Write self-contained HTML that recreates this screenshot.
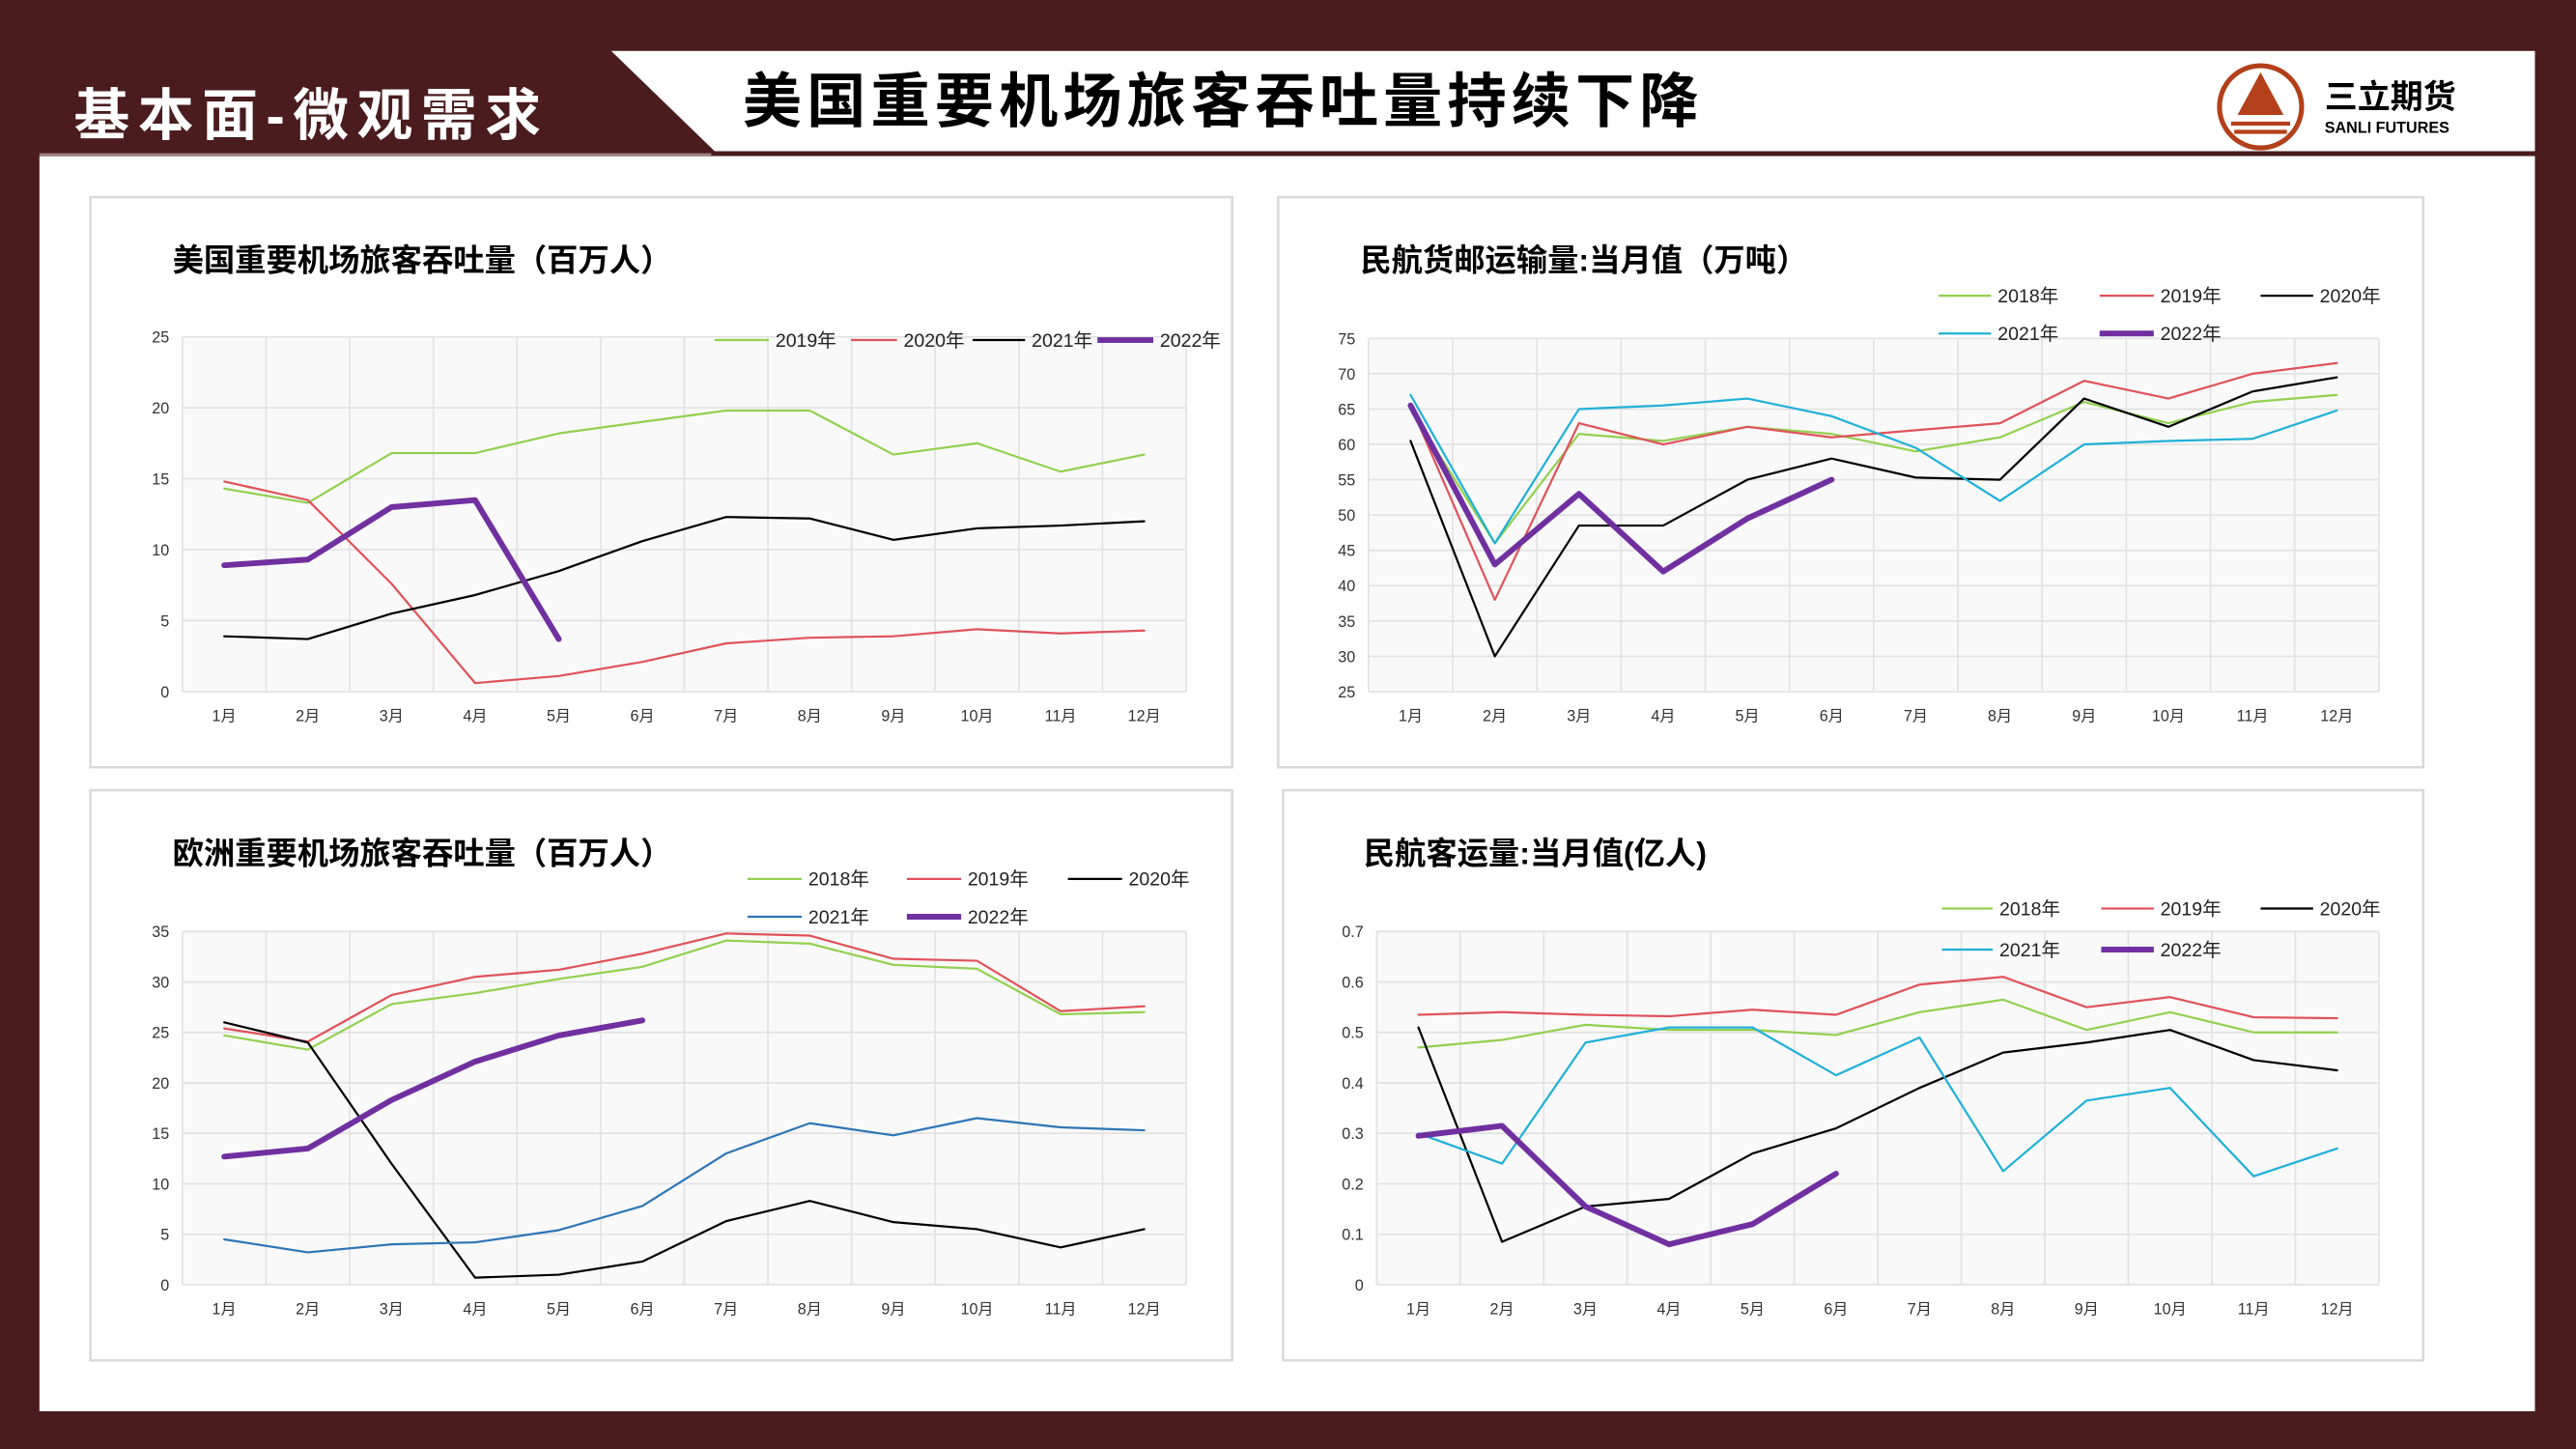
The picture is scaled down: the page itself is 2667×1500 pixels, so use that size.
<!DOCTYPE html>
<html><head><meta charset="utf-8">
<style>
html,body{margin:0;padding:0;background:#4a1c1e;}
svg{display:block}
text{font-family:"Liberation Sans","Noto Sans CJK SC",sans-serif;}
</style></head>
<body>
<svg id="s" width="2667" height="1500" viewBox="0 0 1568 882" preserveAspectRatio="none" xmlns="http://www.w3.org/2000/svg">
<rect x="0" y="0" width="1568" height="882" fill="#4a1c1e"/>
<rect x="24" y="95" width="1519" height="764" fill="#ffffff"/>
<polygon points="372,31 1543,31 1543,92 435,92" fill="#ffffff"/>
<line x1="24" y1="94" x2="433" y2="94" stroke="#a08080" stroke-width="1.5"/>
<text x="45" y="82" font-size="34" font-weight="bold" fill="#ffffff" letter-spacing="5" font-family="'Noto Serif CJK SC','Noto Sans CJK SC',sans-serif">基本面-微观需求</text>
<text x="452" y="74" font-size="36" font-weight="bold" fill="#000" letter-spacing="3" font-family="'Noto Serif CJK SC','Noto Sans CJK SC',sans-serif">美国重要机场旅客吞吐量持续下降</text>
<ellipse cx="1376" cy="65" rx="25" ry="25" fill="#fff" stroke="#b3401a" stroke-width="3"/>
<polygon points="1376,44 1362,70 1390,70" fill="#b3401a"/>
<rect x="1358" y="74" width="36" height="2.5" fill="#b3401a"/>
<rect x="1360" y="79" width="32" height="2.5" fill="#b3401a"/>
<text x="1415" y="66" font-size="20" font-weight="bold" fill="#000">三立期货</text>
<text x="1415" y="81" font-size="9.5" font-weight="bold" fill="#000">SANLI FUTURES</text>
<g id="charts"></g>
</svg>
<script>
const NS="http://www.w3.org/2000/svg";
const g=document.getElementById('charts');
function el(t,a,txt){const e=document.createElementNS(NS,t);for(const k in a)e.setAttribute(k,a[k]);if(txt!==undefined)e.textContent=txt;g.appendChild(e);return e;}
const C={g:'#92d050',r:'#e0525a',k:'#000',b:'#1fb0d8',B:'#2e75b6',p:'#7030a0'};
function chart(o){
  el('rect',{x:o.px,y:o.py,width:o.pw,height:o.ph,fill:'#fff',stroke:'#d9d9d9','stroke-width':1.5});
  el('text',{x:o.tx,y:o.ty,'font-size':19,'font-weight':'bold',fill:'#000','font-family':"'Noto Serif CJK SC','Noto Sans CJK SC',sans-serif"},o.title);
  const {x0,x1,y0,y1,ymin,ymax,step}=o;
  el('rect',{x:x0,y:y0,width:x1-x0,height:y1-y0,fill:'#f9f9f9'});
  const n=Math.round((ymax-ymin)/step);
  for(let i=0;i<=n;i++){const y=y1-(y1-y0)*i/n;el('line',{x1:x0,x2:x1,y1:y,y2:y,stroke:'#e2e2e2','stroke-width':1});
    let v=ymin+i*step;v=o.dec?(i==0?'0':v.toFixed(1)):Math.round(v);
    el('text',{x:x0-8,y:y+3.5,'font-size':9.5,'text-anchor':'end',fill:'#333'},v);}
  const cw=(x1-x0)/12;
  for(let i=0;i<=12;i++){const x=x0+cw*i;el('line',{x1:x,x2:x,y1:y0,y2:y1,stroke:'#e2e2e2','stroke-width':1});}
  for(let i=0;i<12;i++){el('text',{x:x0+cw*(i+0.5),y:y1+18,'font-size':9.5,'text-anchor':'middle',fill:'#333'},(i+1)+'月');}
  o.series.forEach(s=>{
    const pts=s.d.map((v,i)=>(x0+cw*(i+0.5)).toFixed(1)+','+(y1-(v-ymin)/(ymax-ymin)*(y1-y0)).toFixed(1)).join(' ');
    el('polyline',{points:pts,fill:'none',stroke:C[s.c],'stroke-width':s.c=='p'?3.5:1.3,'stroke-linejoin':'round','stroke-linecap':'round'});
  });
  o.leg.forEach(l=>{
    el('line',{x1:l[0],x2:l[1],y1:l[3],y2:l[3],stroke:C[l[4]],'stroke-width':l[4]=='p'?3.5:1.3});
    el('text',{x:l[1]+4,y:l[3]+4,'font-size':11.5,fill:'#222'},l[2]);
  });
}
chart({px:55,py:120,pw:695,ph:347,tx:105,ty:165,title:'美国重要机场旅客吞吐量（百万人）',
 x0:111,x1:722,y0:205,y1:421,ymin:0,ymax:25,step:5,
 series:[{c:'g',d:[14.3,13.3,16.8,16.8,18.2,19.0,19.8,19.8,16.7,17.5,15.5,16.7]},
 {c:'r',d:[14.8,13.5,7.6,0.6,1.1,2.1,3.4,3.8,3.9,4.4,4.1,4.3]},
 {c:'k',d:[3.9,3.7,5.5,6.8,8.5,10.6,12.3,12.2,10.7,11.5,11.7,12.0]},
 {c:'p',d:[8.9,9.3,13.0,13.5,3.7]}],
 leg:[[435,468,'2019年',207,'g'],[518,546,'2020年',207,'r'],[592,624,'2021年',207,'k'],[668,702,'2022年',207,'p']]});
chart({px:778,py:120,pw:697,ph:347,tx:828,ty:165,title:'民航货邮运输量:当月值（万吨）',
 x0:833,x1:1448,y0:206,y1:421,ymin:25,ymax:75,step:5,
 series:[{c:'g',d:[65,46,61.5,60.5,62.5,61.5,59,61,66,63,66,67]},
 {c:'r',d:[65.5,38,63,60,62.5,61,62,63,69,66.5,70,71.5]},
 {c:'k',d:[60.5,30,48.5,48.5,55,58,55.3,55,66.5,62.5,67.5,69.5]},
 {c:'b',d:[67,46,65,65.5,66.5,64,59.5,52,60,60.5,60.8,64.8]},
 {c:'p',d:[65.5,43,53,42,49.5,55]}],
 leg:[[1180,1212,'2018年',180,'g'],[1278,1311,'2019年',180,'r'],[1376,1408,'2020年',180,'k'],[1180,1212,'2021年',203,'b'],[1278,1311,'2022年',203,'p']]});
chart({px:55,py:481,pw:695,ph:347,tx:105,ty:526,title:'欧洲重要机场旅客吞吐量（百万人）',
 x0:111,x1:722,y0:567,y1:782,ymin:0,ymax:35,step:5,
 series:[{c:'g',d:[24.7,23.3,27.8,28.9,30.3,31.5,34.1,33.8,31.7,31.3,26.8,27]},
 {c:'r',d:[25.4,24.1,28.7,30.5,31.2,32.8,34.8,34.6,32.3,32.1,27.1,27.6]},
 {c:'k',d:[26,24,12,0.7,1,2.3,6.3,8.3,6.2,5.5,3.7,5.5]},
 {c:'B',d:[4.5,3.2,4,4.2,5.4,7.8,13,16,14.8,16.5,15.6,15.3]},
 {c:'p',d:[12.7,13.5,18.3,22.1,24.7,26.2]}],
 leg:[[455,488,'2018年',535,'g'],[552,585,'2019年',535,'r'],[650,683,'2020年',535,'k'],[455,488,'2021年',558,'B'],[552,585,'2022年',558,'p']]});
chart({px:781,py:481,pw:694,ph:347,tx:830,ty:526,title:'民航客运量:当月值(亿人)',
 x0:838,x1:1448,y0:567,y1:782,ymin:0,ymax:0.7,step:0.1,dec:true,
 series:[{c:'g',d:[0.47,0.485,0.515,0.505,0.505,0.495,0.54,0.565,0.505,0.54,0.50,0.50]},
 {c:'r',d:[0.535,0.54,0.535,0.532,0.545,0.535,0.595,0.61,0.55,0.57,0.53,0.528]},
 {c:'k',d:[0.51,0.085,0.155,0.17,0.26,0.31,0.39,0.46,0.48,0.505,0.445,0.425]},
 {c:'b',d:[0.30,0.24,0.48,0.51,0.51,0.415,0.49,0.225,0.365,0.39,0.215,0.27]},
 {c:'p',d:[0.295,0.315,0.155,0.08,0.12,0.22]}],
 leg:[[1182,1213,'2018年',553,'g'],[1279,1311,'2019年',553,'r'],[1376,1408,'2020年',553,'k'],[1182,1213,'2021年',578,'b'],[1279,1311,'2022年',578,'p']]});
</script>
</body></html>
